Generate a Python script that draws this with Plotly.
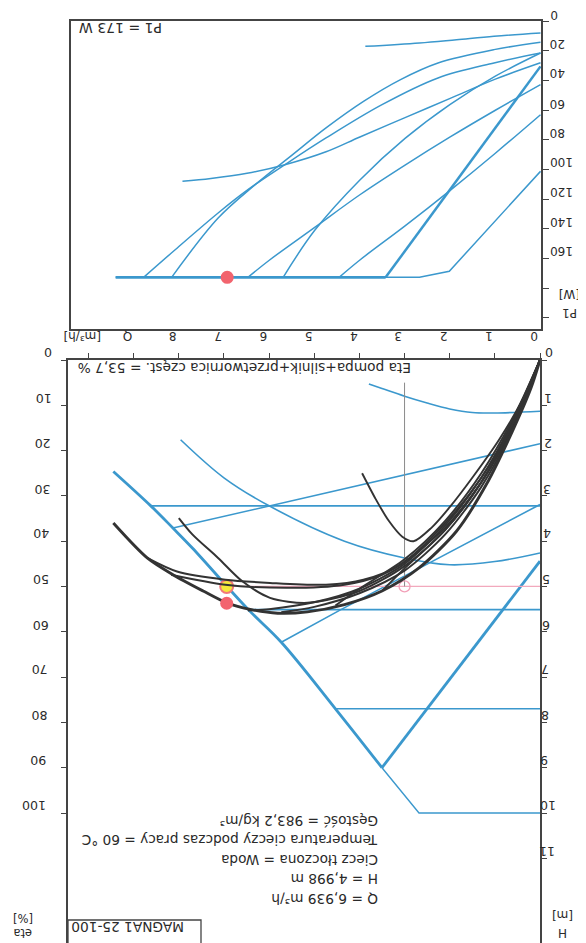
import plotly.graph_objects as go

W, Hpx = 586, 943

# ---------------- data ----------------
# lower panel: Q [m3/h] vs H [m]
const1_q = [0, 1.0, 1.5, 2.0, 2.5, 3.0, 3.5, 3.79]
const1_h = [1.13, 1.17, 1.16, 1.08, 0.95, 0.80, 0.63, 0.53]
const2_q = [0, 1.0, 2.0, 3.0, 4.33, 5.98, 7.0, 7.96]
const2_h = [4.26, 4.45, 4.52, 4.37, 4.0, 3.23, 2.6, 1.76]
pp1_q = [0, 8.13]
pp1_h = [1.85, 3.71]
cp1_q = [0, 8.62]
cp1_h = [3.22, 3.22]
pp2_q = [0, 4.41, 5.73]
pp2_h = [3.19, 5.51, 6.23]
cp2_q = [0, 6.47]
cp2_h = [5.51, 5.51]
cp3_q = [0, 4.53]
cp3_h = [7.70, 7.70]
max_thin_q = [0, 2.68, 3.5]
max_thin_h = [10.0, 10.0, 9.0]
max_thick_q = [3.5, 4.53, 5.73, 6.47, 7.7, 8.13, 8.62, 9.45]
max_thick_h = [9.0, 7.7, 6.23, 5.5, 4.15, 3.71, 3.22, 2.46]
pp3_q = [0, 3.5]
pp3_h = [4.44, 9.0]

# efficiency curves: Q vs eta [%]
eta_max_q = [0, 0.2, 0.61, 1.19, 1.85, 2.68, 3.5, 4.33, 5.15, 5.81, 6.39, 6.94, 7.46, 8.13, 8.7, 9.45]
eta_max_v = [0, 6.2, 15.7, 27.5, 37.8, 45.9, 51.0, 54.0, 55.6, 55.9, 55.1, 53.6, 51.0, 47.4, 43.7, 36.0]
eta_c1_q = [0, 0.4, 0.9, 1.5, 2.0, 2.4, 2.8, 3.05, 3.35, 3.65, 3.94]
eta_c1_v = [0, 9.0, 17.5, 26.0, 32.5, 37.0, 40.0, 39.0, 35.5, 30.5, 25.0]
eta_c2_q = [0, 0.6, 1.3, 2.1, 3.0, 4.0, 5.15, 5.98, 6.6, 7.13, 7.7, 8.0]
eta_c2_v = [0, 14.5, 27.0, 37.5, 45.5, 51.0, 53.6, 52.5, 48.8, 43.7, 38.5, 34.9]
eta_cp1_q = [0, 0.6, 1.3, 2.1, 3.09, 3.91, 4.74, 5.98, 6.97, 8.04, 8.7]
eta_cp1_v = [0, 14.0, 26.0, 36.0, 45.2, 48.5, 49.6, 49.2, 48.5, 46.7, 43.7]
eta_pp1_q = [0, 0.6, 1.3, 2.1, 3.0, 3.5, 4.33, 5.57, 6.97, 8.17]
eta_pp1_v = [0, 14.5, 27.0, 37.0, 44.5, 47.4, 49.6, 50.3, 49.6, 47.4]
eta_cp2_q = [0, 0.6, 1.3, 2.1, 3.0, 4.0, 5.0, 6.0, 6.47]
eta_cp2_v = [0, 13.5, 26.0, 36.5, 45.0, 50.5, 53.5, 55.0, 55.3]
eta_pp2_q = [0, 0.6, 1.3, 2.1, 3.0, 4.0, 5.0, 5.73]
eta_pp2_v = [0, 15.0, 28.0, 38.5, 46.5, 51.5, 54.5, 55.7]
eta_cp3_q = [0, 0.6, 1.3, 2.1, 3.0, 4.0, 4.53]
eta_cp3_v = [0, 13.0, 25.0, 35.5, 44.0, 50.5, 54.2]
eta_pp3_q = [0, 0.6, 1.3, 2.1, 3.0, 3.5]
eta_pp3_v = [0, 14.0, 27.0, 37.5, 46.0, 51.0]

# upper panel: Q vs P1 [W]
p_c1_q = [0, 1.03, 1.86, 2.68, 3.88]
p_c1_v = [7.9, 10.1, 12.4, 14.6, 16.9]
p_max_q = [0, 2.02, 2.68, 9.41]
p_max_v = [101.2, 168.6, 172.7, 172.7]
p_pp3_q = [0, 3.43]
p_pp3_v = [30.4, 172.7]
p_cp3_q = [0, 1.0, 2.0, 3.0, 4.0, 4.46]
p_cp3_v = [63.0, 89.0, 114.0, 138.0, 161.0, 172.7]
p_cp2_q = [0, 1.0, 2.0, 3.0, 4.0, 5.0, 6.0, 6.48]
p_cp2_v = [42.7, 60.0, 78.0, 97.0, 117.0, 139.0, 161.0, 172.7]
p_pp2_q = [0, 1.0, 2.0, 3.0, 4.0, 5.0, 5.70]
p_pp2_v = [21.4, 37.0, 56.0, 79.0, 107.0, 141.0, 172.7]
p_cp1_q = [0, 1.03, 2.27, 3.51, 4.75, 5.66, 6.48, 7.14, 8.13, 8.79]
p_cp1_v = [21.4, 28.1, 38.2, 56.2, 78.7, 96.7, 113.6, 129.3, 155.1, 172.7]
p_pp1_q = [0, 1.03, 2.27, 3.10, 3.92, 4.75, 5.49, 6.32, 7.14, 8.17]
p_pp1_v = [14.2, 19.1, 28.1, 39.3, 54.0, 71.9, 89.9, 110.2, 132.7, 172.7]
p_c2_q = [0, 1.0, 2.0, 3.0, 4.0, 4.75, 5.66, 6.5, 7.3, 7.93]
p_c2_v = [28.0, 39.0, 52.0, 65.0, 78.0, 88.0, 96.7, 102.5, 106.0, 107.9]

duty_q = 6.939
duty_h = 4.998
duty_eta = 53.7
duty_p1 = 173
ref_q = 3.0

q_ticks = list(range(0, 11))
q_labels = ["0", "1", "2", "3", "4", "5", "6", "7", "8", "Q", "[m³/h]"]
h_ticks = list(range(0, 12))
eta_ticks = list(range(0, 101, 10))
p_ticks = list(range(0, 201, 20))
p_labels = [str(v) for v in range(0, 161, 20)]

info_lines = ["Q = 6,939 m³/h", "H = 4,998 m", "Ciecz tłoczona = Woda",
              "Temperatura cieczy podczas pracy = 60 °C", "Gęstość = 983,2 kg/m³"]

# ---------------- geometry ----------------
def fx(px):
    return px / W

def fy(py):
    return 1 - py / Hpx

BLUE = "#3b98cd"
BLACK = "#333333"
AX = "#444444"
TXT = "#2a2a2a"
FONT = "DejaVu Sans"
DX, DY = -6, -7   # compensation for 180-degree text placement

L_left, L_right, L_top, L_bot = 60, 532, 352, 935
U_left, U_right, U_top, U_bot = 63, 533, 13, 321
QPX = 45.15
HPX = 45.3
PPX = 1.4825

fig = go.Figure()

def blue(q, v, width=1.6, axis=("x", "y"), shape="linear"):
    fig.add_trace(go.Scatter(x=q, y=v, mode="lines", xaxis=axis[0], yaxis=axis[1],
                             line=dict(color=BLUE, width=width, shape=shape),
                             hoverinfo="skip", showlegend=False))

def black(q, v, width=2.0):
    fig.add_trace(go.Scatter(x=q, y=v, mode="lines", xaxis="x", yaxis="y2",
                             line=dict(color=BLACK, width=width, shape="spline", smoothing=0.8),
                             hoverinfo="skip", showlegend=False))

# lower panel blue curves
blue(const1_q, const1_h, 1.6, shape="spline")
blue(const2_q, const2_h, 1.6, shape="spline")
blue(pp1_q, pp1_h)
blue(cp1_q, cp1_h)
blue(pp2_q, pp2_h)
blue(cp2_q, cp2_h)
blue(cp3_q, cp3_h)
blue(max_thin_q, max_thin_h, 1.4)
blue(max_thick_q, max_thick_h, 2.8, shape="spline")
blue(pp3_q, pp3_h, 2.8)

# pink duty line and reference marks
fig.add_trace(go.Scatter(x=[0, duty_q], y=[duty_h, duty_h], mode="lines", xaxis="x", yaxis="y",
                         line=dict(color="#f2a9bd", width=1.2), hoverinfo="skip", showlegend=False))
fig.add_trace(go.Scatter(x=[ref_q, ref_q], y=[0.5, duty_h], mode="lines", xaxis="x", yaxis="y",
                         line=dict(color="#8a8a8a", width=1), hoverinfo="skip", showlegend=False))

# efficiency curves
black(eta_c1_q, eta_c1_v, 1.9)
black(eta_c2_q, eta_c2_v, 2.0)
black(eta_cp1_q, eta_cp1_v, 2.0)
black(eta_pp1_q, eta_pp1_v, 2.0)
black(eta_cp2_q, eta_cp2_v, 2.0)
black(eta_pp2_q, eta_pp2_v, 2.0)
black(eta_cp3_q, eta_cp3_v, 2.0)
black(eta_pp3_q, eta_pp3_v, 2.0)
black(eta_max_q, eta_max_v, 2.9)

fig.add_trace(go.Scatter(x=[ref_q], y=[duty_h], mode="markers", xaxis="x", yaxis="y",
                         marker=dict(size=11, color="rgba(255,255,255,0)", line=dict(color="#f2a0b8", width=1.3)),
                         hoverinfo="skip", showlegend=False))
fig.add_trace(go.Scatter(x=[duty_q], y=[duty_eta], mode="markers", xaxis="x", yaxis="y2",
                         marker=dict(size=13, color="#f2646e", line=dict(width=0)),
                         hoverinfo="skip", showlegend=False))
fig.add_trace(go.Scatter(x=[duty_q], y=[duty_h], mode="markers", xaxis="x", yaxis="y",
                         marker=dict(size=13, color="#f4e83a", line=dict(color="#f27a7a", width=2)),
                         hoverinfo="skip", showlegend=False))

# upper panel
ax3 = ("x2", "y3")
blue(p_c1_q, p_c1_v, 1.5, ax3, "spline")
blue(p_max_q, p_max_v, 1.5, ax3)
blue(p_pp3_q, p_pp3_v, 2.5, ax3)
blue(p_cp3_q, p_cp3_v, 1.5, ax3, "spline")
blue(p_cp2_q, p_cp2_v, 1.5, ax3, "spline")
blue(p_pp2_q, p_pp2_v, 1.5, ax3, "spline")
blue(p_cp1_q, p_cp1_v, 1.5, ax3, "spline")
blue(p_pp1_q, p_pp1_v, 1.5, ax3, "spline")
blue(p_c2_q, p_c2_v, 1.5, ax3, "spline")
blue([3.43, 9.41], [duty_p1 - 0.3, duty_p1 - 0.3], 2.8, ax3)
fig.add_trace(go.Scatter(x=[duty_q], y=[172.7], mode="markers", xaxis="x2", yaxis="y3",
                         marker=dict(size=13, color="#f2646e", line=dict(width=0)),
                         hoverinfo="skip", showlegend=False))

# ---------------- axes ----------------
q_lo = (L_right - L_left) / QPX
q_up_l = (532.5 - U_left) / QPX
q_up_r = (532.5 - U_right) / QPX
h_bot = (L_bot - L_top) / HPX
p_top = (U_top - 13.3) / PPX
p_bot = (U_bot - 13.3) / PPX

common = dict(showgrid=False, zeroline=False, showline=True, linecolor=AX, linewidth=1.5)
fig.update_layout(
    width=W, height=Hpx, margin=dict(l=0, r=0, t=0, b=0),
    paper_bgcolor="white", plot_bgcolor="rgba(0,0,0,0)", showlegend=False,
    font=dict(family=FONT, color=TXT, size=12),
    xaxis=dict(domain=[fx(L_left), fx(L_right)], range=[q_lo, 0], side="top", anchor="y",
               ticks="outside", ticklen=5, tickwidth=1.3, tickcolor=AX, tickvals=q_ticks,
               showticklabels=False, mirror=True, **common),
    yaxis=dict(domain=[fy(L_bot), fy(L_top)], range=[h_bot, 0], side="right", anchor="x",
               ticks="outside", ticklen=5, tickwidth=1.3, tickcolor=AX, tickvals=h_ticks,
               showticklabels=False, mirror=True, **common),
    yaxis2=dict(overlaying="y", range=[h_bot * 10, 0], side="left", anchor="x",
                ticks="outside", ticklen=6, tickwidth=1.3, tickcolor=AX, tickvals=eta_ticks,
                showticklabels=False, showgrid=False, zeroline=False, showline=False),
    xaxis2=dict(domain=[fx(U_left), fx(U_right)], range=[q_up_l, q_up_r], anchor="y3",
                showticklabels=False, ticks="", mirror=True, **common),
    yaxis3=dict(domain=[fy(U_bot), fy(U_top)], range=[p_bot, p_top], side="right", anchor="x2",
                ticks="outside", ticklen=6, tickwidth=1.3, tickcolor=AX, tickvals=p_ticks,
                showticklabels=False, mirror=True, **common),
)

ann = []
def txt(x, y, s, size=12, xa="center", ya="middle"):
    ann.append(dict(x=fx(x + DX), y=fy(y + DY), xref="paper", yref="paper", text=s, showarrow=False,
                    textangle=180, xanchor=xa, yanchor=ya,
                    font=dict(family=FONT, size=size, color=TXT)))

for q, lab in zip(q_ticks, q_labels):
    txt(L_right - q * QPX, 335, lab, 12)
for h in h_ticks:
    txt(541 - 5 * h / 10, L_top + h * HPX, str(h), 12.5, xa="left")
for e in eta_ticks:
    txt(52 - 6 * e / 100, L_top + e / 10 * HPX, str(e), 12.5, xa="right")
for p, lab in zip(p_ticks, p_labels):
    txt(546, 13.3 + p * PPX, lab, 12, xa="left")

txt(568, 293, "[W]", 12)
txt(568, 312, "P1", 12)
txt(561, 914, "[m]", 12)
txt(561, 932, "H", 12)
txt(21, 917, "[%]", 11.5)
txt(21, 932, "eta", 11.5)

txt(119, 27, "P1 = 173 W", 14)
txt(243, 367, "Eta pompa+silnik+przetwornica częst. = 53,7 %", 13.7)
for i, line in enumerate(info_lines):
    txt(378, 898 - i * 19.5, line, 13.7, xa="right")
txt(126, 926, "MAGNA1 25-100", 13.7)

fig.update_layout(annotations=ann)
fig.add_shape(type="rect", xref="paper", yref="paper", x0=fx(L_left), x1=fx(193),
              y0=fy(939), y1=fy(912), line=dict(color=AX, width=1.3))

fig.write_html("out.html")
